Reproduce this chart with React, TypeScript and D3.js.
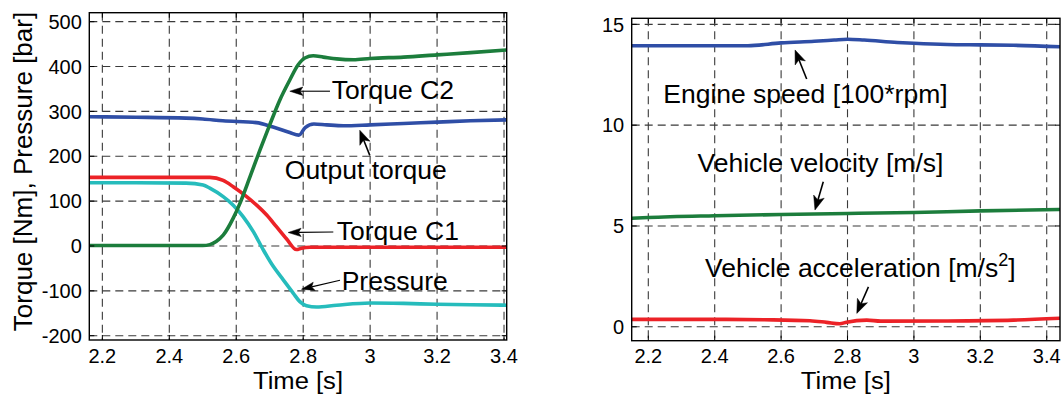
import React from 'react';
import * as d3 from 'd3';

// ---------- data ----------
const xTickValues = [2.2, 2.4, 2.6, 2.8, 3.0, 3.2, 3.4];
const xTickLabels = ['2.2', '2.4', '2.6', '2.8', '3', '3.2', '3.4'];
const leftYTicks = [-200, -100, 0, 100, 200, 300, 400, 500];
const leftYTickLabels = ['-200', '-100', '0', '100', '200', '300', '400', '500'];
const rightYTicks = [0, 5, 10, 15];
const rightYTickLabels = ['0', '5', '10', '15'];

type Pt = [number, number];

// Left panel: Torque [Nm], Pressure [bar]
const torqueC2: Pt[] = [
  [2.16, 1], [2.3, 1], [2.45, 1], [2.5, 1], [2.521, 3], [2.54, 10], [2.561, 24], [2.591, 62],
  [2.611, 95], [2.641, 154], [2.671, 214], [2.7, 270], [2.73, 325], [2.76, 370], [2.785, 404],
  [2.805, 419], [2.83, 424], [2.86, 421], [2.9, 417], [2.95, 415], [3.0, 418], [3.1, 421],
  [3.2, 426], [3.3, 431], [3.408, 437],
];
const outputTorque: Pt[] = [
  [2.16, 288], [2.3, 287], [2.45, 285], [2.5, 283], [2.56, 279], [2.66, 275], [2.71, 265],
  [2.76, 253], [2.787, 247], [2.806, 264], [2.832, 272], [2.87, 270], [2.92, 268], [3.0, 270],
  [3.1, 273], [3.2, 276], [3.3, 279], [3.408, 281],
];
const torqueC1: Pt[] = [
  [2.16, 153], [2.3, 153], [2.45, 153], [2.521, 153], [2.561, 146], [2.591, 132], [2.631, 110],
  [2.661, 91], [2.691, 69], [2.72, 43], [2.75, 16], [2.78, -8], [2.795, -5], [2.82, -3],
  [3.0, -3], [3.2, -3], [3.408, -3],
];
const pressure: Pt[] = [
  [2.16, 141], [2.3, 141], [2.45, 140], [2.501, 136], [2.521, 129], [2.561, 110], [2.591, 91],
  [2.621, 65], [2.651, 32], [2.681, -9], [2.711, -46], [2.741, -76], [2.77, -105], [2.79, -124],
  [2.81, -133], [2.84, -136], [2.9, -132], [3.0, -127], [3.1, -128], [3.2, -130], [3.3, -131],
  [3.408, -132],
];

// Right panel
const engineSpeed: Pt[] = [
  [2.15, 13.94], [2.3, 13.94], [2.5, 13.94], [2.6, 14.08], [2.7, 14.16], [2.76, 14.22],
  [2.8, 14.26], [2.85, 14.22], [2.95, 14.1], [3.0, 14.06], [3.1, 14.0], [3.2, 13.98],
  [3.3, 13.96], [3.44, 13.89],
];
const vehicleVelocity: Pt[] = [
  [2.15, 5.38], [2.2, 5.42], [2.4, 5.51], [2.6, 5.57], [2.8, 5.62], [3.0, 5.67], [3.2, 5.75],
  [3.44, 5.82],
];
const vehicleAccel: Pt[] = [
  [2.15, 0.37], [2.4, 0.37], [2.55, 0.35], [2.687, 0.3], [2.737, 0.22], [2.777, 0.15],
  [2.797, 0.23], [2.858, 0.33], [2.9, 0.28], [3.1, 0.29], [3.3, 0.33], [3.44, 0.42],
];

// annotations: text anchor (t, v), arrow tail (t, v), arrow tip (t, v)
const leftNotes = [
  { text: 'Torque C2', tx: 2.885, tv: 327, ax: 2.88, av: 345, bx: 2.76, bv: 345, head: 'thin' },
  { text: 'Output torque', tx: 2.745, tv: 150, ax: 2.999, av: 202, bx: 2.969, bv: 258, head: 'big' },
  { text: 'Torque C1', tx: 2.9, tv: 12.7, ax: 2.89, av: 31, bx: 2.755, bv: 30, head: 'thin' },
  { text: 'Pressure', tx: 2.915, tv: -98.8, ax: 2.91, av: -76.5, bx: 2.795, bv: -96.5, head: 'thin' },
];
const rightNotes = [
  { text: 'Engine speed [100*rpm]', tx: 2.245, tv: 11.08, ax: 2.677, av: 12.29, bx: 2.642, bv: 13.73, head: 'big' },
  { text: 'Vehicle velocity [m/s]', tx: 2.348, tv: 7.66, ax: 2.727, av: 7.19, bx: 2.702, bv: 5.79, head: 'big' },
  { text: 'Vehicle acceleration [m/s', sup: '2', tail: ']', tx: 2.371, tv: 2.48, ax: 2.863, av: 1.98, bx: 2.828, bv: 0.665, head: 'big' },
];

const COLORS = { blue: '#2f4ea6', green: '#1c7d3c', red: '#ec2227', cyan: '#26bcbc' };
const FONT = "'Liberation Sans', Arial, Helvetica, sans-serif";

function arrowHead(x1: number, y1: number, x2: number, y2: number, L: number, W: number, notch: number) {
  const dx = x2 - x1, dy = y2 - y1;
  const len = Math.hypot(dx, dy);
  const ux = dx / len, uy = dy / len;
  const px = -uy, py = ux;
  const bx = x2 - L * ux, by = y2 - L * uy;
  const nx = x2 - notch * L * ux, ny = y2 - notch * L * uy;
  return {
    path: `M${x2},${y2}L${bx + W * px},${by + W * py}L${nx},${ny}L${bx - W * px},${by - W * py}Z`,
    nx, ny,
  };
}

type Series = { data: Pt[]; color: string };

function Panel(props: {
  x0: number; x1: number; y0: number; y1: number;
  xDomain: [number, number]; yDomain: [number, number];
  yTicks: number[]; yTickLabels: string[];
  series: Series[]; notes: any[]; ylabel?: string; clipId: string;
}) {
  const { x0, x1, y0, y1, xDomain, yDomain, yTicks, yTickLabels, series, notes, ylabel, clipId } = props;
  const x = d3.scaleLinear().domain(xDomain).range([x0, x1]);
  const y = d3.scaleLinear().domain(yDomain).range([y1, y0]);
  const line = d3.line<Pt>().x(d => x(d[0])).y(d => y(d[1])).curve(d3.curveMonotoneX);
  const dash = '8,5';
  const gridColor = '#3a3a3a';
  return (
    <g>
      <defs>
        <clipPath id={clipId}>
          <rect x={x0} y={y0} width={x1 - x0} height={y1 - y0} />
        </clipPath>
      </defs>
      <rect x={x0} y={y0} width={x1 - x0} height={y1 - y0} fill="#fff" />
      {xTickValues.map((t, i) => (
        <line key={'gx' + i} x1={x(t)} x2={x(t)} y1={y0} y2={y1} stroke={gridColor} strokeWidth={1.1} strokeDasharray={dash} />
      ))}
      {yTicks.map((v, i) => (
        <line key={'gy' + i} x1={x0} x2={x1} y1={y(v)} y2={y(v)} stroke={gridColor} strokeWidth={1.1} strokeDasharray={dash} />
      ))}
      <g clipPath={`url(#${clipId})`}>
        {series.map((s, i) => (
          <path key={'s' + i} d={line(s.data) || ''} fill="none" stroke={s.color} strokeWidth={3.6} strokeLinejoin="round" strokeLinecap="round" />
        ))}
      </g>
      {xTickValues.map((t, i) => (
        <g key={'tx' + i}>
          <line x1={x(t)} x2={x(t)} y1={y1} y2={y1 - 5} stroke="#000" strokeWidth={1} />
          <line x1={x(t)} x2={x(t)} y1={y0} y2={y0 + 5} stroke="#000" strokeWidth={1} />
          <text x={x(t)} y={y1 + 22.5} textAnchor="middle" fontFamily={FONT} fontSize={20}>{xTickLabels[i]}</text>
        </g>
      ))}
      {yTicks.map((v, i) => (
        <g key={'ty' + i}>
          <line x1={x0} x2={x0 + 5} y1={y(v)} y2={y(v)} stroke="#000" strokeWidth={1} />
          <line x1={x1} x2={x1 - 5} y1={y(v)} y2={y(v)} stroke="#000" strokeWidth={1} />
          <text x={x0 - 7.5} y={y(v) + 7.2} textAnchor="end" fontFamily={FONT} fontSize={20}>{yTickLabels[i]}</text>
        </g>
      ))}
      <rect x={x0} y={y0} width={x1 - x0} height={y1 - y0} fill="none" stroke="#000" strokeWidth={1.4} />
      {notes.map((n, i) => {
        const ax = x(n.ax), ay = y(n.av), bx = x(n.bx), by = y(n.bv);
        const big = n.head === 'big';
        const h = arrowHead(ax, ay, bx, by, big ? 14 : 13, big ? 5.5 : 4.2, big ? 0.75 : 0.8);
        return (
          <g key={'n' + i}>
            <line x1={ax} y1={ay} x2={h.nx} y2={h.ny} stroke="#000" strokeWidth={big ? 1.6 : 1.1} />
            <path d={h.path} fill="#000" stroke="#000" strokeWidth={0.5} strokeLinejoin="miter" />
            <text x={x(n.tx)} y={y(n.tv)} fontFamily={FONT} fontSize={26.5} fill="#000">
              {n.text}
              {n.sup ? <tspan dy={-11} fontSize={18}>{n.sup}</tspan> : null}
              {n.tail ? <tspan dy={11} fontSize={26.5}>{n.tail}</tspan> : null}
            </text>
          </g>
        );
      })}
      <text x={(x0 + x1) / 2} y={y1 + 48.5} textAnchor="middle" fontFamily={FONT} fontSize={23.5}
        textLength={90} lengthAdjust="spacingAndGlyphs">Time [s]</text>
      {ylabel ? (
        <text transform={`translate(31.5,${171.5}) rotate(-90)`} textAnchor="middle" fontFamily={FONT} fontSize={26}>{ylabel}</text>
      ) : null}
    </g>
  );
}

export default function App() {
  return (
    <svg width={1063} height={396} viewBox="0 0 1063 396" style={{ position: 'absolute', left: 0, top: 0, background: '#fff' }}>
      <rect x={0} y={0} width={1063} height={396} fill="#fff" />
      <Panel
        x0={89.3} x1={506.7} y0={12.7} y1={340}
        xDomain={[2.161, 3.408]} yDomain={[-209.6, 520]}
        yTicks={leftYTicks} yTickLabels={leftYTickLabels}
        series={[
          { data: outputTorque, color: COLORS.blue },
          { data: pressure, color: COLORS.cyan },
          { data: torqueC1, color: COLORS.red },
          { data: torqueC2, color: COLORS.green },
        ]}
        notes={leftNotes}
        ylabel="Torque [Nm], Pressure [bar]"
        clipId="clipL"
      />
      <Panel
        x0={631.7} x1={1060} y0={18.3} y1={340.7}
        xDomain={[2.15, 3.44]} yDomain={[-0.69, 15.3]}
        yTicks={rightYTicks} yTickLabels={rightYTickLabels}
        series={[
          { data: engineSpeed, color: COLORS.blue },
          { data: vehicleVelocity, color: COLORS.green },
          { data: vehicleAccel, color: COLORS.red },
        ]}
        notes={rightNotes}
        clipId="clipR"
      />
    </svg>
  );
}
